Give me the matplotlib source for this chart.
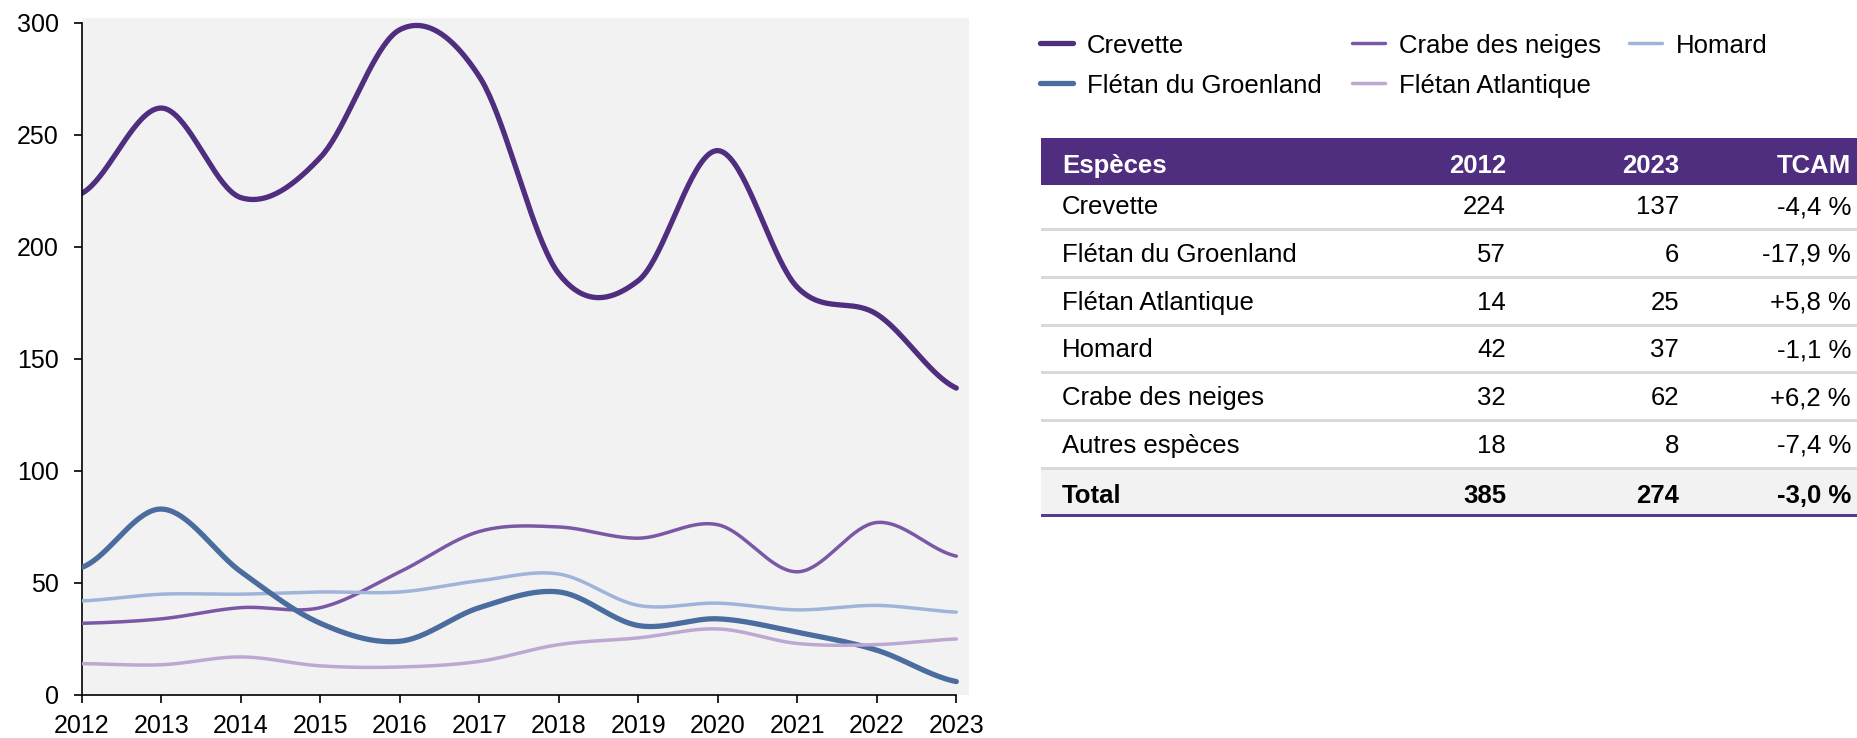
import numpy as np
import matplotlib.pyplot as plt
from matplotlib.patches import Rectangle

plt.rcParams['font.family'] = ['Liberation Sans', 'DejaVu Sans']

W, H = 1858, 738

years = list(range(2012, 2024))
crevette = [224, 262, 222, 240, 297, 276, 188, 185, 243, 182, 170, 137]
groenland = [57, 83, 55, 32, 24, 39, 46, 31, 34, 28, 20, 6]
crabe = [32, 34, 39, 39, 55, 73, 75, 70, 76, 55, 77, 62]
homard = [42, 45, 45, 46, 46, 51, 54, 40, 41, 38, 40, 37]
atlantique = [14, 13.5, 17, 13, 12.5, 15, 22.5, 25.5, 29.5, 23, 22.5, 25]

table_head = ["Espèces", "2012", "2023", "TCAM"]
table_rows = [
    ["Crevette", "224", "137", "-4,4 %"],
    ["Flétan du Groenland", "57", "6", "-17,9 %"],
    ["Flétan Atlantique", "14", "25", "+5,8 %"],
    ["Homard", "42", "37", "-1,1 %"],
    ["Crabe des neiges", "32", "62", "+6,2 %"],
    ["Autres espèces", "18", "8", "-7,4 %"],
]
table_total = ["Total", "385", "274", "-3,0 %"]

# series in drawing order (later on top), with legend slot (col, row)
series = [
    ("Crevette", crevette, "#4F2D7F", 3.8, (0, 0)),
    ("Crabe des neiges", crabe, "#7A58A6", 2.5, (1, 0)),
    ("Homard", homard, "#9EB4D9", 2.5, (2, 0)),
    ("Flétan du Groenland", groenland, "#4A6C9E", 3.8, (0, 1)),
    ("Flétan Atlantique", atlantique, "#BCA8D1", 2.5, (1, 1)),
]


def smooth(x, y, n=40):
    # Catmull-Rom style smoothing like Excel's "smoothed line"
    x = np.asarray(x, float)
    y = np.asarray(y, float)
    yp = np.concatenate([[y[0]], y, [y[-1]]])
    xs, ys = [], []
    for i in range(len(y) - 1):
        m0 = (yp[i + 2] - yp[i]) / 2
        m1 = (yp[i + 3] - yp[i + 1]) / 2
        t = np.linspace(0, 1, n, endpoint=(i == len(y) - 2))
        h00 = 2 * t**3 - 3 * t**2 + 1
        h01 = -2 * t**3 + 3 * t**2
        h10 = t**3 - 2 * t**2 + t
        h11 = t**3 - t**2
        xs.append(x[i] + t * (x[i + 1] - x[i]))
        ys.append(h00 * y[i] + h01 * y[i + 1] + h10 * m0 + h11 * m1)
    return np.concatenate(xs), np.concatenate(ys)


fig = plt.figure(figsize=(W / 100, H / 100), dpi=100)

ax = fig.add_axes([82 / W, (H - 695) / H, (969 - 82) / W, (695 - 18) / H])
ax.set_facecolor("#F2F2F2")
for z, (name, vals, col, lw, _) in enumerate(series):
    sx, sy = smooth(years, vals)
    ax.plot(sx, sy, color=col, lw=lw, solid_capstyle="round", zorder=2 + z)

ax.set_xlim(2012, 2023.16)
ax.set_ylim(0, 302.2)
ax.set_xticks(years)
ax.set_yticks(range(0, 301, 50))
ax.spines["top"].set_visible(False)
ax.spines["right"].set_visible(False)
ax.spines["left"].set_bounds(0, 300)
ax.spines["bottom"].set_bounds(2012, 2023)
for s in ("left", "bottom"):
    ax.spines[s].set_linewidth(1.2)
ax.tick_params(direction="out", length=5.8, width=1.2, labelsize=18)
ax.tick_params(axis="y", pad=11)
ax.tick_params(axis="x", pad=8)

# overlay in pixel coordinates for legend and table
ov = fig.add_axes([0, 0, 1, 1])
ov.set_xlim(0, W)
ov.set_ylim(H, 0)
ov.axis("off")
ov.patch.set_alpha(0)

leg_x = [1038, 1350, 1627]
leg_y = [43, 83]
for name, vals, col, lw, (c, r) in series:
    x0, y0 = leg_x[c], leg_y[r]
    ov.plot([x0 + 2, x0 + 35], [y0, y0], color=col, lw=lw, solid_capstyle="round")
    ov.text(x0 + 49, y0 + 10, name, fontsize=18.5, va="baseline", ha="left")

tx0, tx1 = 1041, W
col_x = [1062, 1506, 1679, 1851]
col_ha = ["left", "right", "right", "right"]

ov.add_patch(Rectangle((tx0, 138), tx1 - tx0, 47, color="#4F2D7F", lw=0))
for j, t in enumerate(table_head):
    ov.text(col_x[j], 173, t, fontsize=18.5, fontweight="bold", color="white",
            ha=col_ha[j], va="baseline")

step = 47.8
for i, row in enumerate(table_rows):
    base = 214 + step * i
    for j, t in enumerate(row):
        ov.text(col_x[j], base, t, fontsize=18.5, ha=col_ha[j], va="baseline")
    ov.add_patch(Rectangle((tx0, 228 + step * i), tx1 - tx0, 3, color="#D9D9D9", lw=0))

ov.add_patch(Rectangle((tx0, 470), tx1 - tx0, 44, color="#F2F2F2", lw=0))
for j, t in enumerate(table_total):
    ov.text(col_x[j], 503, t, fontsize=18.5, fontweight="bold", ha=col_ha[j], va="baseline")
ov.add_patch(Rectangle((tx0, 514), tx1 - tx0, 3, color="#5B3A8E", lw=0))

fig.savefig("out.png", dpi=100)
